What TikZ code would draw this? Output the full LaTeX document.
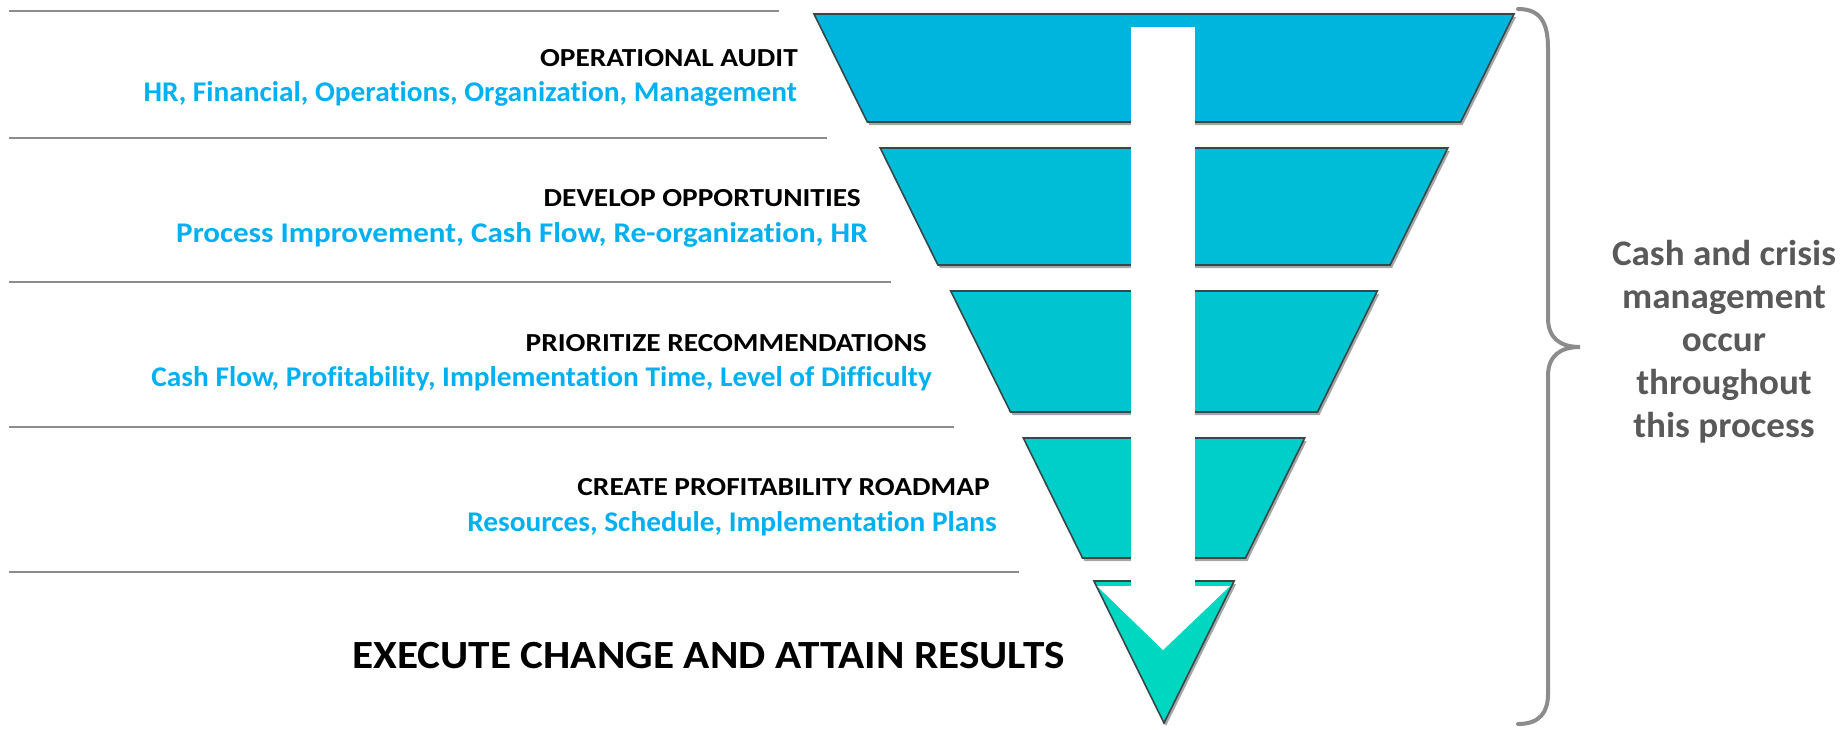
\documentclass[tikz,border=0pt]{standalone}
\usepackage{fontspec}
\setmainfont{Carlito}[RawFeature={-liga}]
\newfontfamily\ttlfont{Carlito}[FakeStretch=1.13, RawFeature={-liga}]
\newfontfamily\subfont{Carlito}[FakeStretch=1.03, RawFeature={-liga}]
\newfontfamily\subwidefont{Carlito}[FakeStretch=1.09, RawFeature={-liga}]
\newfontfamily\bigfont{Carlito}[FakeStretch=1.08, RawFeature={-liga}]
\newfontfamily\sidefont{Carlito}[FakeStretch=1.03, RawFeature={-liga}]
\definecolor{bandA}{HTML}{00B5DD}
\definecolor{bandB}{HTML}{00BDD7}
\definecolor{bandC}{HTML}{00C5D1}
\definecolor{bandD}{HTML}{00CEC9}
\definecolor{bandE}{HTML}{00D7C0}
\definecolor{txtblue}{HTML}{00B0F0}
\definecolor{sidegray}{HTML}{595959}
\definecolor{rulegray}{HTML}{8C8C8C}
\definecolor{edgedark}{HTML}{36474A}
\begin{document}
\begin{tikzpicture}[x=1pt,y=-1pt,
  bandshape/.style={draw=edgedark, line width=1.6pt, line join=miter},
  bandshadow/.style={fill=black!35, draw=none},
  sideline/.style={draw=rulegray, line width=2pt},
  ttl/.style={inner sep=0pt, font=\ttlfont\fontsize{26}{31}\selectfont\bfseries, text=black},
  sub/.style={inner sep=0pt, font=\subfont\fontsize{28.5}{34}\selectfont\bfseries, text=txtblue},
  subwide/.style={inner sep=0pt, font=\subwidefont\fontsize{28.5}{34}\selectfont\bfseries, text=txtblue},
  bigttl/.style={inner sep=0pt, font=\bigfont\fontsize{40}{48}\selectfont\bfseries, text=black},
  sidetxt/.style={inner sep=0pt, align=center, font=\sidefont\fontsize{36}{43}\selectfont\bfseries, text=sidegray},
  bracketline/.style={draw=rulegray, line width=4pt, line cap=round}]
\useasboundingbox (0,0) rectangle (1845,729);
% left rules
\draw[sideline] (9,11) -- (779,11);
\draw[sideline] (9,138) -- (827,138);
\draw[sideline] (9,282) -- (891,282);
\draw[sideline] (9,427) -- (954,427);
\draw[sideline] (9,572) -- (1019,572);
% shadows
\begin{scope}[shift={(2,3)}]
\fill[bandshadow] (814,14) -- (1514,14) -- (1460.7,122) -- (867.3,122) -- cycle;
\fill[bandshadow] (880.2,148) -- (1447.8,148) -- (1390.1,265) -- (937.9,265) -- cycle;
\fill[bandshadow] (950.7,291) -- (1377.3,291) -- (1317.5,412) -- (1010.5,412) -- cycle;
\fill[bandshadow] (1023.3,438) -- (1304.7,438) -- (1245.5,558) -- (1082.5,558) -- cycle;
\fill[bandshadow] (1093.9,581) -- (1234.1,581) -- (1164,723) -- cycle;
\end{scope}
% bands
\draw[bandshape, fill=bandA] (814,14) -- (1514,14) -- (1460.7,122) -- (867.3,122) -- cycle;
\draw[bandshape, fill=bandB] (880.2,148) -- (1447.8,148) -- (1390.1,265) -- (937.9,265) -- cycle;
\draw[bandshape, fill=bandC] (950.7,291) -- (1377.3,291) -- (1317.5,412) -- (1010.5,412) -- cycle;
\draw[bandshape, fill=bandD] (1023.3,438) -- (1304.7,438) -- (1245.5,558) -- (1082.5,558) -- cycle;
\draw[bandshape, fill=bandE] (1093.9,581) -- (1234.1,581) -- (1164,723) -- cycle;
% white arrow
\fill[white] (1131,27) rectangle (1195,587);
\fill[white] (1097,586) -- (1230,586) -- (1163,650) -- cycle;
% bracket
\draw[bracketline] (1518,9) .. controls (1540,9) and (1548,22) .. (1548,48)
  -- (1548,318) .. controls (1548,338) and (1560,347) .. (1580,347)
  .. controls (1560,347) and (1548,356) .. (1548,376)
  -- (1548,694) .. controls (1548,712) and (1540,724) .. (1518,724);
% texts
\node[ttl, anchor=base east] (t1) at (798,66) {OPERATIONAL AUDIT};
\node[sub, anchor=base east] (s1) at (797,101) {HR, Financial, Operations, Organization, Management};
\node[ttl, anchor=base east] (t2) at (861,206) {DEVELOP OPPORTUNITIES};
\node[subwide, anchor=base east] (s2) at (868,242) {Process Improvement, Cash Flow, Re-organization, HR};
\node[ttl, anchor=base east] (t3) at (927,351) {PRIORITIZE RECOMMENDATIONS};
\node[sub, anchor=base east] (s3) at (932,386) {Cash Flow, Profitability, Implementation Time, Level of Difficulty};
\node[ttl, anchor=base east] (t4) at (990,495) {CREATE PROFITABILITY ROADMAP};
\node[sub, anchor=base east] (s4) at (997,531) {Resources, Schedule, Implementation Plans};
\node[bigttl, anchor=base west] (t5) at (352,668) {EXECUTE CHANGE AND ATTAIN RESULTS};
\node[sidetxt, anchor=center] (side) at (1724,342) {Cash and crisis\\management\\occur\\throughout\\this process};
\end{tikzpicture}
\end{document}
